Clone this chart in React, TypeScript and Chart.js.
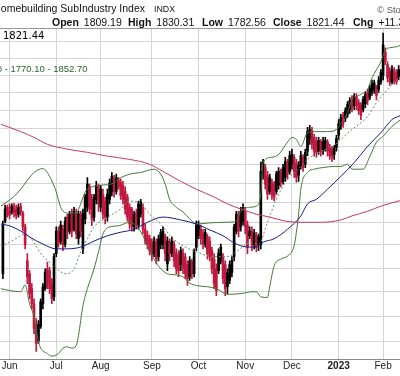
import React, { useEffect, useRef } from 'react';
import { Chart, registerables } from 'chart.js';

Chart.register(...registerables);

// Trading-day index 0 = 26 May 2022
const MONTH_DAYS = [3, 24, 44, 67, 88, 109, 130, 151, 171];
const MONTH_LABELS = ['Jun', 'Jul', 'Aug', 'Sep', 'Oct', 'Nov', 'Dec', '2023', 'Feb'];
const GRID_VALUES = [1901, 1864, 1830, 1796, 1760, 1726, 1692, 1659, 1625, 1591, 1556, 1518, 1478, 1441, 1402, 1364];

const OPEN = [
  1470, 1558, 1582, 1575, 1574, 1584, 1579, 1570, 1584, 1572,
  1548, 1491, 1470, 1446, 1422, 1391, 1365, 1387, 1422, 1446,
  1478, 1475, 1454, 1433, 1503, 1541, 1524, 1544, 1519, 1565,
  1541, 1572, 1544, 1572, 1528, 1568, 1511, 1562, 1582, 1618,
  1596, 1565, 1596, 1618, 1582, 1605, 1593, 1565, 1596, 1609,
  1633, 1610, 1618, 1626, 1621, 1610, 1600, 1582, 1579, 1548,
  1572, 1551, 1570, 1582, 1544, 1534, 1528, 1521, 1503, 1521,
  1498, 1519, 1518, 1531, 1486, 1521, 1503, 1518, 1504, 1501,
  1508, 1504, 1498, 1485, 1465, 1489, 1470, 1514, 1533, 1544,
  1538, 1519, 1531, 1524, 1508, 1494, 1478, 1475, 1491, 1498,
  1485, 1472, 1459, 1472, 1498, 1541, 1568, 1548, 1558, 1575,
  1551, 1533, 1541, 1518, 1534, 1531, 1518, 1641, 1653, 1639,
  1610, 1626, 1623, 1610, 1621, 1644, 1628, 1635, 1663, 1646,
  1659, 1672, 1661, 1657, 1657, 1672, 1659, 1683, 1705, 1722,
  1709, 1703, 1683, 1700, 1685, 1688, 1700, 1690, 1687, 1688,
  1690, 1713, 1732, 1751, 1745, 1753, 1762, 1784, 1770, 1788,
  1776, 1770, 1762, 1774, 1796, 1786, 1798, 1802, 1806, 1802,
  1817, 1830, 1878, 1852, 1838, 1817, 1840, 1836, 1826,
];
const HIGH = [
  1558, 1586, 1586, 1588, 1588, 1589, 1586, 1588, 1589, 1575,
  1553, 1503, 1475, 1454, 1430, 1399, 1396, 1430, 1454, 1478,
  1489, 1481, 1462, 1503, 1548, 1548, 1558, 1551, 1565, 1570,
  1575, 1579, 1582, 1579, 1575, 1575, 1579, 1605, 1635, 1623,
  1605, 1605, 1628, 1623, 1621, 1614, 1600, 1614, 1632, 1644,
  1639, 1641, 1635, 1632, 1628, 1618, 1605, 1588, 1582, 1575,
  1579, 1593, 1596, 1588, 1553, 1541, 1534, 1528, 1531, 1528,
  1534, 1544, 1548, 1536, 1531, 1528, 1531, 1524, 1511, 1508,
  1514, 1511, 1503, 1491, 1498, 1494, 1511, 1558, 1558, 1551,
  1544, 1544, 1536, 1531, 1514, 1503, 1486, 1511, 1519, 1503,
  1491, 1478, 1491, 1498, 1553, 1575, 1575, 1582, 1588, 1582,
  1558, 1548, 1548, 1544, 1539, 1536, 1663, 1668, 1659, 1646,
  1641, 1632, 1628, 1646, 1653, 1650, 1659, 1672, 1668, 1683,
  1687, 1677, 1668, 1664, 1683, 1677, 1687, 1728, 1732, 1728,
  1715, 1709, 1709, 1705, 1709, 1709, 1705, 1696, 1692, 1694,
  1713, 1743, 1753, 1757, 1766, 1778, 1786, 1790, 1794, 1794,
  1782, 1776, 1788, 1798, 1802, 1810, 1821, 1821, 1810, 1828,
  1842, 1918, 1887, 1858, 1846, 1850, 1846, 1842, 1850,
];
const LOW = [
  1462, 1555, 1565, 1562, 1570, 1565, 1562, 1565, 1568, 1541,
  1511, 1454, 1430, 1414, 1376, 1349, 1361, 1384, 1414, 1443,
  1446, 1438, 1422, 1427, 1498, 1514, 1519, 1508, 1514, 1528,
  1536, 1531, 1541, 1528, 1519, 1531, 1503, 1553, 1575, 1570,
  1550, 1558, 1588, 1575, 1575, 1562, 1553, 1558, 1588, 1602,
  1600, 1605, 1614, 1596, 1588, 1570, 1558, 1544, 1541, 1541,
  1544, 1544, 1565, 1536, 1519, 1511, 1501, 1491, 1498, 1486,
  1491, 1511, 1511, 1491, 1475, 1491, 1498, 1481, 1470, 1465,
  1475, 1470, 1462, 1451, 1459, 1462, 1465, 1508, 1528, 1519,
  1511, 1514, 1494, 1491, 1470, 1446, 1435, 1470, 1486, 1454,
  1435, 1438, 1454, 1465, 1491, 1536, 1531, 1541, 1551, 1536,
  1503, 1528, 1508, 1511, 1506, 1508, 1511, 1632, 1614, 1596,
  1605, 1596, 1593, 1605, 1614, 1618, 1623, 1628, 1632, 1641,
  1650, 1635, 1626, 1628, 1650, 1646, 1653, 1675, 1696, 1687,
  1674, 1672, 1677, 1674, 1677, 1683, 1674, 1668, 1664, 1668,
  1683, 1705, 1724, 1728, 1739, 1747, 1755, 1758, 1762, 1762,
  1753, 1743, 1758, 1766, 1772, 1782, 1790, 1794, 1782, 1796,
  1812, 1821, 1852, 1817, 1810, 1813, 1813, 1812, 1821,
];
const CLOSE = [
  1551, 1579, 1570, 1568, 1584, 1572, 1567, 1582, 1574, 1548,
  1518, 1465, 1438, 1422, 1384, 1361, 1390, 1425, 1449, 1472,
  1454, 1446, 1430, 1498, 1541, 1521, 1551, 1518, 1558, 1541,
  1570, 1541, 1575, 1536, 1570, 1541, 1572, 1600, 1623, 1579,
  1562, 1600, 1621, 1588, 1614, 1570, 1565, 1605, 1625, 1637,
  1610, 1635, 1630, 1603, 1596, 1579, 1565, 1553, 1548, 1570,
  1551, 1588, 1591, 1544, 1524, 1518, 1508, 1501, 1524, 1494,
  1528, 1539, 1541, 1503, 1524, 1503, 1524, 1491, 1478, 1475,
  1485, 1478, 1470, 1462, 1491, 1470, 1506, 1551, 1551, 1528,
  1518, 1539, 1503, 1498, 1478, 1454, 1443, 1504, 1514, 1462,
  1446, 1449, 1485, 1491, 1548, 1570, 1541, 1575, 1582, 1548,
  1514, 1541, 1518, 1538, 1514, 1518, 1646, 1663, 1623, 1605,
  1635, 1603, 1600, 1641, 1646, 1625, 1653, 1664, 1641, 1675,
  1677, 1646, 1635, 1639, 1675, 1653, 1681, 1720, 1724, 1696,
  1683, 1681, 1703, 1683, 1701, 1703, 1683, 1675, 1672, 1677,
  1707, 1735, 1747, 1735, 1760, 1772, 1780, 1766, 1788, 1770,
  1760, 1751, 1782, 1792, 1780, 1804, 1813, 1815, 1790, 1821,
  1836, 1893, 1858, 1826, 1817, 1842, 1821, 1817, 1842,
];

const BB_UPPER_DAYS = [-1, 5, 8, 14, 18, 21, 24, 26, 29, 33, 35, 37, 40, 44, 50, 52, 57, 62, 68, 71, 73, 75, 78, 81, 84, 87, 93, 100, 105, 107, 111, 114, 116, 117, 121, 124, 128, 130, 132, 134, 137, 141, 146, 150, 152, 155, 157, 161, 164, 166, 170, 172, 174, 177, 179];
const BB_UPPER = [1584, 1601, 1614, 1644, 1651, 1637, 1609, 1582, 1572, 1572, 1588, 1609, 1618, 1621, 1625, 1632, 1641, 1644, 1650, 1641, 1623, 1596, 1582, 1574, 1562, 1553, 1555, 1556, 1558, 1575, 1582, 1584, 1605, 1662, 1672, 1677, 1700, 1709, 1705, 1692, 1718, 1720, 1720, 1724, 1735, 1757, 1782, 1792, 1802, 1825, 1858, 1882, 1887, 1889, 1893];

const BB_LOWER_DAYS = [-1, 3, 8, 10, 12, 14, 16, 17, 20, 22, 25, 27, 29, 31, 33, 34, 36, 38, 41, 43, 45, 48, 52, 57, 60, 63, 68, 71, 74, 78, 81, 84, 87, 92, 96, 101, 107, 112, 114, 116, 119, 120, 122, 125, 128, 131, 132, 133, 134, 137, 140, 144, 149, 152, 155, 157, 162, 165, 168, 171, 175, 179];
const BB_LOWER = [1446, 1443, 1441, 1452, 1422, 1402, 1364, 1354, 1346, 1342, 1346, 1354, 1356, 1354, 1358, 1373, 1419, 1446, 1478, 1506, 1536, 1548, 1550, 1556, 1550, 1533, 1494, 1478, 1470, 1468, 1465, 1455, 1451, 1449, 1446, 1437, 1438, 1441, 1441, 1433, 1432, 1449, 1483, 1494, 1499, 1516, 1539, 1570, 1614, 1644, 1650, 1653, 1655, 1655, 1659, 1650, 1650, 1673, 1700, 1711, 1730, 1743];

const BB_MID_DAYS = [-1, 3, 8, 10, 18, 23, 26, 29, 32, 35, 38, 41, 44, 48, 53, 57, 62, 66, 71, 75, 81, 87, 93, 98, 102, 107, 111, 115, 119, 123, 128, 132, 137, 143, 149, 153, 157, 164, 168, 173, 177, 179];
const BB_MID = [1516, 1522, 1533, 1536, 1499, 1483, 1473, 1470, 1478, 1506, 1528, 1548, 1558, 1567, 1579, 1593, 1588, 1570, 1553, 1534, 1516, 1506, 1499, 1498, 1499, 1512, 1521, 1519, 1556, 1596, 1632, 1646, 1668, 1683, 1694, 1709, 1724, 1749, 1776, 1802, 1821, 1828];

const MA50_DAYS = [-1, 3, 8, 12, 18, 24, 29, 35, 41, 47, 53, 59, 65, 72, 80, 87, 93, 99, 104, 110, 114, 117, 122, 128, 134, 137, 141, 146, 152, 158, 164, 170, 175, 179];
const MA50 = [1553, 1550, 1541, 1531, 1519, 1511, 1511, 1514, 1524, 1533, 1539, 1544, 1556, 1565, 1560, 1553, 1543, 1533, 1521, 1514, 1514, 1522, 1528, 1544, 1567, 1588, 1596, 1614, 1637, 1662, 1692, 1718, 1743, 1751];

const MA200_DAYS = [-1, 3, 8, 14, 20, 29, 38, 47, 57, 66, 72, 80, 87, 95, 101, 107, 114, 120, 127, 134, 143, 152, 157, 164, 170, 179];
const MA200 = [1734, 1728, 1720, 1709, 1696, 1687, 1681, 1674, 1668, 1659, 1646, 1628, 1614, 1600, 1588, 1579, 1570, 1565, 1558, 1556, 1556, 1560, 1567, 1575, 1584, 1594];

const HEADER_ITEMS: [string, string][] = [
  ['Open', '1809.19'], ['High', '1830.31'], ['Low', '1782.56'], ['Close', '1821.44'], ['Chg', '+11.3'],
];
const LAST_PRICE = '1821.44';
const BB_TEXT = '1811.40 - 1770.10 - 1852.70';

const RED = '#c2183f';
const BLACK = '#000000';
const GREEN = '#447a36';

const barColors = CLOSE.map((c, i) => (i === 0 || c >= CLOSE[i - 1] ? BLACK : RED));
const pts = (days: number[], vals: number[]) => days.map((d, k) => ({ x: d, y: vals[k] }));

const headerPlugin = {
  id: 'header',
  afterDraw(chart: any) {
    const ctx = chart.ctx as CanvasRenderingContext2D;
    const top = chart.chartArea.top;
    ctx.save();
    ctx.strokeStyle = '#999';
    ctx.lineWidth = 1;
    ctx.beginPath();
    ctx.moveTo(0, top + 0.5);
    ctx.lineTo(chart.width, top + 0.5);
    ctx.stroke();

    ctx.textBaseline = 'alphabetic';
    ctx.fillStyle = '#111';
    ctx.textAlign = 'right';
    ctx.font = '10.5px "Liberation Sans", Arial, sans-serif';
    ctx.fillText('Homebuilding SubIndustry Index', 145, 12);
    ctx.textAlign = 'left';
    ctx.font = '8.8px "Liberation Sans", Arial, sans-serif';
    ctx.fillText('INDX', 154, 12);

    ctx.fillStyle = '#555';
    ctx.font = '9.5px "Liberation Sans", Arial, sans-serif';
    ctx.fillText('\u00A9 StockCharts.com', 377, 13);

    const xs = [52, 128, 202, 273, 353];
    ctx.fillStyle = '#111';
    HEADER_ITEMS.forEach(([label, val], k) => {
      ctx.font = 'bold 10.5px "Liberation Sans", Arial, sans-serif';
      ctx.fillText(label, xs[k], 25.5);
      const w = ctx.measureText(label).width;
      ctx.font = '10.5px "Liberation Sans", Arial, sans-serif';
      ctx.fillText(val, xs[k] + w + 5, 25.5);
    });

    ctx.fillStyle = '#000';
    ctx.font = '10px "DejaVu Sans", sans-serif';
    ctx.fillText(LAST_PRICE, 3, 38.5);

    ctx.fillStyle = '#2f5f2f';
    ctx.textAlign = 'right';
    ctx.font = '9.5px "Liberation Sans", Arial, sans-serif';
    ctx.fillText(BB_TEXT, 87.5, 71.5);
    ctx.restore();
  },
};

export default function App() {
  const ref = useRef<HTMLCanvasElement>(null);
  useEffect(() => {
    document.body.style.margin = '0';
    const lineBase = {
      type: 'line' as const,
      pointRadius: 0,
      borderWidth: 1,
      fill: false,
      cubicInterpolationMode: 'monotone' as const,
      order: 0,
    };
    const chart = new Chart(ref.current as HTMLCanvasElement, {
      type: 'bar',
      data: {
        datasets: [
          { ...lineBase, label: 'MA200', data: pts(MA200_DAYS, MA200), borderColor: '#c23a62' },
          { ...lineBase, label: 'MA50', data: pts(MA50_DAYS, MA50), borderColor: '#1c1c80' },
          { ...lineBase, label: 'BB mid', data: pts(BB_MID_DAYS, BB_MID), borderColor: '#6e8a6e', borderDash: [2, 2] },
          { ...lineBase, label: 'BB upper', data: pts(BB_UPPER_DAYS, BB_UPPER), borderColor: GREEN },
          { ...lineBase, label: 'BB lower', data: pts(BB_LOWER_DAYS, BB_LOWER), borderColor: GREEN },
          {
            type: 'bar',
            label: 'range',
            data: HIGH.map((h, i) => ({ x: i, y: [LOW[i], h] })) as any,
            backgroundColor: barColors,
            barThickness: 1,
            grouped: false,
            order: 2,
          },
          {
            type: 'bar',
            label: 'body',
            data: OPEN.map((o, i) => ({ x: i, y: [o, CLOSE[i]] })) as any,
            backgroundColor: barColors,
            barThickness: 2,
            grouped: false,
            minBarLength: 1,
            order: 1,
          },
        ] as any,
      },
      options: {
        responsive: false,
        animation: false,
        events: [],
        layout: { padding: { top: 28, bottom: 3.5, left: 0, right: 0 } },
        plugins: { legend: { display: false }, tooltip: { enabled: false }, title: { display: false } },
        scales: {
          x: {
            type: 'linear',
            min: -1.04,
            max: 178.6,
            offset: false,
            bounds: 'data',
            afterBuildTicks: (scale: any) => {
              scale.ticks = MONTH_DAYS.map((v) => ({ value: v }));
            },
            grid: { color: '#d4d4d4', drawTicks: false, offset: false },
            border: { display: true, color: '#8a8a8a' },
            ticks: {
              autoSkip: false,
              maxRotation: 0,
              padding: 1.5,
              color: '#222',
              callback: (v: any) => MONTH_LABELS[MONTH_DAYS.indexOf(Number(v))],
              font: (c: any) => ({
                family: '"Liberation Sans", Arial, sans-serif',
                size: 10,
                lineHeight: 1,
                weight: c.tick && c.tick.value === 151 ? 'bold' : 'normal',
              }),
            },
          },
          y: {
            type: 'logarithmic',
            position: 'right',
            min: 1337.1,
            max: 1928.6,
            bounds: 'data',
            afterBuildTicks: (scale: any) => {
              scale.ticks = GRID_VALUES.map((v) => ({ value: v }));
            },
            grid: { color: '#d4d4d4', drawTicks: false },
            border: { display: false },
            ticks: { display: false },
          },
        } as any,
      },
      plugins: [headerPlugin],
    } as any);
    return () => chart.destroy();
  }, []);
  return (
    <div style={{ position: 'fixed', left: 0, top: 0, width: 400, height: 376, background: '#fff' }}>
      <canvas ref={ref} width={400} height={376} style={{ display: 'block', width: 400, height: 376 }} />
    </div>
  );
}
